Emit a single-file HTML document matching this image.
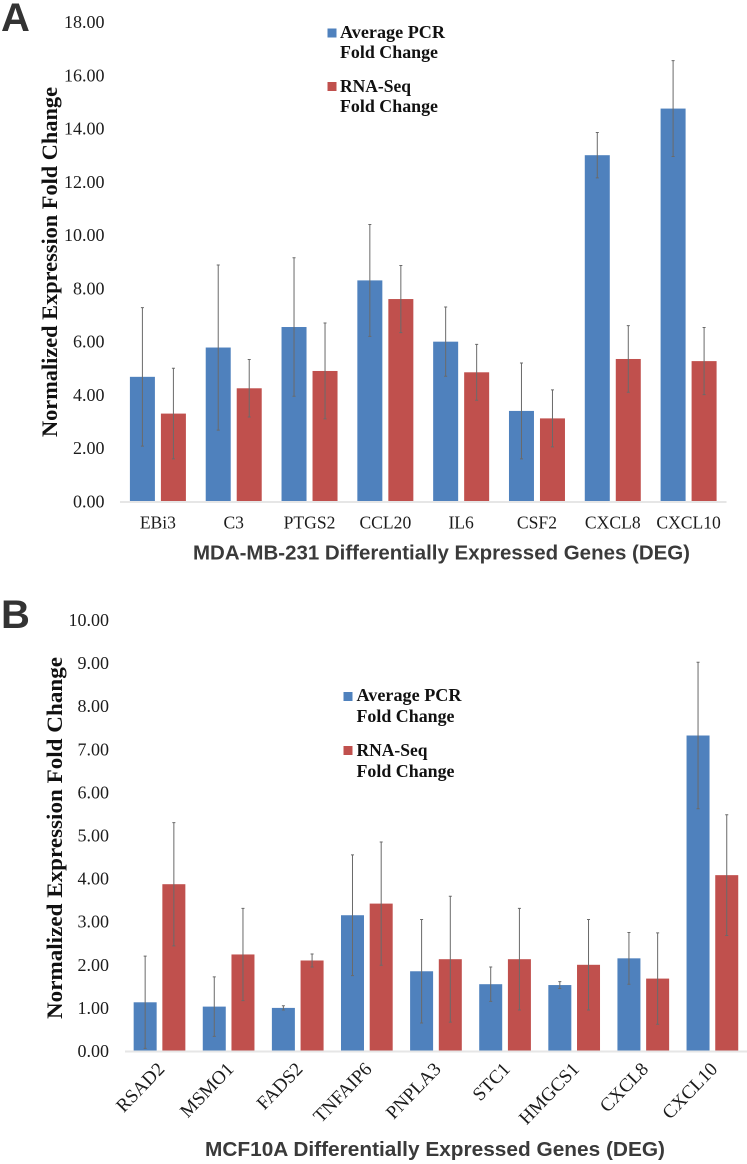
<!DOCTYPE html>
<html lang="en">
<head>
<meta charset="utf-8">
<title>Normalized Expression Fold Change</title>
<style>
html,body{margin:0;padding:0;background:#fff;}
svg{display:block;}
text{font-family:"Liberation Serif",serif;}
.tick{font-size:18px;fill:#1c1c1c;}
.cat{font-size:17.6px;fill:#1c1c1c;}
.catr{font-size:19px;fill:#1c1c1c;}
.ytitle{font-size:22px;font-weight:bold;fill:#111;}
.xtitle{font-family:"Liberation Sans",sans-serif;font-size:20px;font-weight:bold;fill:#3a3a3a;}
.leg{font-size:17.5px;font-weight:bold;fill:#111;}
.panel{font-family:"Liberation Sans",sans-serif;font-size:40px;font-weight:bold;fill:#333;}
</style>
</head>
<body>
<svg id="figure" xmlns="http://www.w3.org/2000/svg" width="747" height="1164" viewBox="0 0 747 1164">
  <g id="chart-a"></g>
  <g id="chart-b"></g>

  <text class="panel" x="1" y="31">A</text>
  <text class="panel" x="1" y="628">B</text>

  <text class="ytitle" transform="translate(57,262) rotate(-90)" text-anchor="middle" textLength="350" lengthAdjust="spacingAndGlyphs">Normalized Expression Fold Change</text>
  <text class="ytitle" transform="translate(62,838) rotate(-90)" text-anchor="middle" textLength="362" lengthAdjust="spacingAndGlyphs">Normalized Expression Fold Change</text>

  <text class="xtitle" x="441.5" y="559.5" text-anchor="middle" textLength="497" lengthAdjust="spacingAndGlyphs">MDA-MB-231 Differentially Expressed Genes (DEG)</text>
  <text class="xtitle" x="435" y="1156" text-anchor="middle" textLength="460" lengthAdjust="spacingAndGlyphs">MCF10A Differentially Expressed Genes (DEG)</text>

  <g>
    <rect x="327.5" y="28.5" width="9" height="9" fill="#4f81bd"/>
    <text class="leg" x="340" y="38" textLength="105" lengthAdjust="spacingAndGlyphs">Average PCR</text>
    <text class="leg" x="340" y="58" textLength="98" lengthAdjust="spacingAndGlyphs">Fold Change</text>
    <rect x="327.5" y="82" width="9" height="9" fill="#c0504d"/>
    <text class="leg" x="340" y="92" textLength="71" lengthAdjust="spacingAndGlyphs">RNA-Seq</text>
    <text class="leg" x="340" y="112" textLength="98" lengthAdjust="spacingAndGlyphs">Fold Change</text>
  </g>
  <g>
    <rect x="343.5" y="692" width="9" height="9" fill="#4f81bd"/>
    <text class="leg" x="356.5" y="701" textLength="105" lengthAdjust="spacingAndGlyphs">Average PCR</text>
    <text class="leg" x="356.5" y="722" textLength="98" lengthAdjust="spacingAndGlyphs">Fold Change</text>
    <rect x="343.5" y="746" width="9" height="9" fill="#c0504d"/>
    <text class="leg" x="356.5" y="756" textLength="71" lengthAdjust="spacingAndGlyphs">RNA-Seq</text>
    <text class="leg" x="356.5" y="777" textLength="98" lengthAdjust="spacingAndGlyphs">Fold Change</text>
  </g>
</svg>
<script>
var categoriesA = ["EBi3","C3","PTGS2","CCL20","IL6","CSF2","CXCL8","CXCL10"];
var pcrValuesA = [4.68,5.78,6.55,8.30,6.00,3.40,13.00,14.75];
var rnaValuesA = [3.30,4.25,4.90,7.60,4.85,3.12,5.35,5.27];
var pcrErrorsA = [2.60,3.10,2.60,2.10,1.30,1.80,0.85,1.80];
var rnaErrorsA = [1.70,1.08,1.80,1.26,1.05,1.07,1.25,1.26];
var tickLabelsA = ["0.00","2.00","4.00","6.00","8.00","10.00","12.00","14.00","16.00","18.00"];

var categoriesB = ["RSAD2","MSMO1","FADS2","TNFAIP6","PNPLA3","STC1","HMGCS1","CXCL8","CXCL10"];
var pcrValuesB = [1.13,1.03,1.00,3.15,1.85,1.55,1.53,2.15,7.32];
var rnaValuesB = [3.87,2.24,2.10,3.42,2.13,2.13,2.00,1.68,4.08];
var pcrErrorsB = [1.07,0.69,0.05,1.40,1.20,0.40,0.08,0.60,1.70];
var rnaErrorsB = [1.43,1.07,0.15,1.43,1.46,1.18,1.05,1.06,1.40];
var tickLabelsB = ["0.00","1.00","2.00","3.00","4.00","5.00","6.00","7.00","8.00","9.00","10.00"];

var NS = "http://www.w3.org/2000/svg";

function make(parent, tag, attrs, content) {
  var el = document.createElementNS(NS, tag);
  for (var key in attrs) {
    el.setAttribute(key, attrs[key]);
  }
  if (content !== undefined) {
    el.textContent = content;
  }
  parent.appendChild(el);
  return el;
}

function drawChart(opts) {
  var root = document.getElementById(opts.rootId);
  var maxTick = parseFloat(opts.ticks[opts.ticks.length - 1]);
  var y = function (v) {
    return opts.y0 - (v / maxTick) * (opts.y0 - opts.yTop);
  };
  var n = opts.categories.length;
  var step = (opts.x1 - opts.x0) / n;
  var center = function (i) {
    return opts.x0 + step * (i + 0.5);
  };

  opts.ticks.forEach(function (label) {
    var t = make(root, "text", {
      "class": "tick",
      x: opts.tickX,
      y: y(parseFloat(label)) + 6,
      "text-anchor": "end"
    }, label);
    
    
  });

  function drawSeries(values, errors, offset, color, seriesName) {
    values.forEach(function (v, i) {
      var left = center(i) + offset;
      var bar = make(root, "rect", {
        x: left,
        y: y(v),
        width: opts.barW,
        height: opts.y0 - y(v),
        fill: color
      });
      
      

      var cx = left + opts.barW / 2;
      var top = y(v + errors[i]);
      var bottom = y(v - errors[i]);
      var err = make(root, "path", {
        d: "M" + (cx - 1.5) + " " + top + "H" + (cx + 1.5) +
           "M" + cx + " " + top + "V" + bottom +
           "M" + (cx - 1.5) + " " + bottom + "H" + (cx + 1.5),
        stroke: "#6a6a6a",
        "stroke-width": 1,
        fill: "none"
      });
      
      
    });
  }
  drawSeries(opts.pcr, opts.pcrErr, opts.pcrOffset, "#4f81bd", "pcr");
  drawSeries(opts.rna, opts.rnaErr, opts.rnaOffset, "#c0504d", "rna-seq");

  var axis = make(root, "line", {
    x1: opts.x0,
    x2: opts.x1,
    y1: opts.y0 + 0.5,
    y2: opts.y0 + 0.5,
    stroke: "#e6e6e6",
    "stroke-width": 2
  });
  
  

  opts.categories.forEach(function (label, i) {
    var attrs = {};
    if (opts.rotated) {
      attrs["class"] = "catr";
      attrs["text-anchor"] = "end";
      attrs.transform = "translate(" + (center(i) + 6) + "," + (opts.y0 + 19) + ") rotate(-46)";
    } else {
      attrs["class"] = "cat";
      attrs["text-anchor"] = "middle";
      attrs.x = center(i);
      attrs.y = opts.y0 + 27;
    }
    var t = make(root, "text", attrs, label);
    
    
  });
}

drawChart({
  rootId: "chart-a",
  categories: categoriesA,
  pcr: pcrValuesA, rna: rnaValuesA,
  pcrErr: pcrErrorsA, rnaErr: rnaErrorsA,
  ticks: tickLabelsA,
  x0: 120, x1: 726.5, y0: 501.5, yTop: 22,
  tickX: 104.5,
  barW: 25, pcrOffset: -28, rnaOffset: 3,
  rotated: false
});

drawChart({
  rootId: "chart-b",
  categories: categoriesB,
  pcr: pcrValuesB, rna: rnaValuesB,
  pcrErr: pcrErrorsB, rnaErr: rnaErrorsB,
  ticks: tickLabelsB,
  x0: 125, x1: 747, y0: 1051, yTop: 620,
  tickX: 109,
  barW: 23, pcrOffset: -25.9, rnaOffset: 2.8,
  rotated: true
});
</script>
</body>
</html>
